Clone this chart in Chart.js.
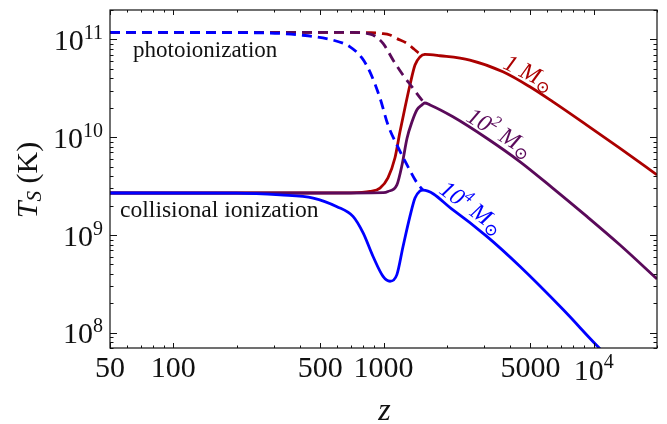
<!DOCTYPE html>
<html>
<head>
<meta charset="utf-8">
<script src="https://cdn.jsdelivr.net/npm/chart.js@4.4.0/dist/chart.umd.min.js"></script>
<style>
  html, body { margin: 0; padding: 0; background: #fff; }
  #wrap { width: 667px; height: 424px; }
</style>
</head>
<body>
<div id="wrap"><canvas id="tsChart" width="667" height="424"></canvas></div>
<script>
// Spin temperature T_S (K) vs redshift z
const zRange = [50, 20000];
const tRange = [7e7, 2e11];

// 1 Msun
const zRedColl = [50, 300, 700, 863, 962, 1050, 1134, 1197, 1265, 1336, 1412, 1490, 1574, 1855, 2575, 3700, 4970, 6380, 9270, 13300, 20000];
const tRedColl = [2.69e9, 2.69e9, 2.70e9, 2.79e9, 3.02e9, 3.85e9, 6.17e9, 1.13e10, 2.0e10, 3.42e10, 5.47e10, 6.61e10, 7.03e10, 6.81e10, 6.15e10, 4.67e10, 3.28e10, 2.31e10, 1.33e10, 7.73e9, 4.12e9];
const zRedPhot = [50, 600, 870, 980, 1074, 1158, 1294, 1400, 1490, 1574];
const tRedPhot = [1.18e11, 1.18e11, 1.17e11, 1.15e11, 1.11e11, 1.02e11, 9.12e10, 7.94e10, 7.16e10, 7.03e10];

// 10^2 Msun
const zPurColl = [50, 500, 1000, 1050, 1158, 1225, 1294, 1365, 1443, 1524, 1570, 1665, 2140, 3100, 4450, 6380, 9270, 13300, 20000];
const tPurColl = [2.69e9, 2.69e9, 2.72e9, 2.79e9, 3.26e9, 5.21e9, 9.77e9, 1.43e10, 1.91e10, 2.14e10, 2.24e10, 2.14e10, 1.62e10, 9.77e9, 5.64e9, 3.02e9, 1.55e9, 7.96e8, 3.56e8];
const zPurPhot = [50, 700, 820, 891, 995, 1110, 1238, 1365, 1524, 1570];
const tPurPhot = [1.18e11, 1.18e11, 1.16e11, 1.11e11, 9.12e10, 6.17e10, 4.33e10, 3.28e10, 2.40e10, 2.24e10];

// 10^4 Msun
const zBluColl = [50, 200, 322, 463, 601, 716, 800, 892, 995, 1074, 1158, 1238, 1336, 1412, 1490, 1541, 2140, 3100, 4450, 7130, 10570, 20000];
const tBluColl = [2.69e9, 2.68e9, 2.57e9, 2.39e9, 1.95e9, 1.55e9, 1.05e9, 6.03e8, 3.78e8, 3.37e8, 3.94e8, 7.59e8, 1.55e9, 2.39e9, 2.82e9, 2.88e9, 1.81e9, 9.68e8, 4.79e8, 1.74e8, 7.08e7, 1.86e7];
const zBluPhot = [50, 250, 401, 575, 693, 791, 863, 962, 1050, 1158, 1294, 1443, 1541];
const tBluPhot = [1.18e11, 1.17e11, 1.11e11, 9.84e10, 8.41e10, 6.44e10, 4.63e10, 2.52e10, 1.34e10, 8.34e9, 5.21e9, 3.42e9, 2.88e9];

// axis ticks
const xLabelTicks = [50, 100, 500, 1000, 5000, 10000];
const xLabelText = ['50', '100', '500', '1000', '5000', '10^4'];
const yLabelTicks = [1e8, 1e9, 1e10, 1e11];
const yLabelText = ['10^8', '10^9', '10^10', '10^11'];

const RED = '#ab0000';
const PURPLE = '#5a0a5a';
const BLUE = '#0000ff';
const SERIF = "'Liberation Serif', 'DejaVu Serif', serif";

function toPoints(zs, ts) {
  return zs.map((z, i) => ({ x: z, y: ts[i] }));
}

function line(label, zs, ts, color, dashed, order) {
  return {
    label: label,
    data: toPoints(zs, ts),
    borderColor: color,
    backgroundColor: 'transparent',
    borderWidth: 2.8,
    borderDash: dashed ? [10, 6] : [],
    pointRadius: 0,
    cubicInterpolationMode: 'monotone',
    fill: false,
    order: order
  };
}

function fontOf(p) {
  return (p.italic ? 'italic ' : '') + p.size + 'px ' + SERIF;
}

// draw a run of text pieces (superscripts/subscripts via dy)
function drawRich(ctx, parts, x, y, align) {
  let w = 0;
  parts.forEach(p => { ctx.font = fontOf(p); p.w = ctx.measureText(p.text).width; w += p.w; });
  let cx = align === 'right' ? x - w : align === 'center' ? x - w / 2 : x;
  ctx.textAlign = 'left';
  parts.forEach(p => {
    ctx.font = fontOf(p);
    ctx.fillText(p.text, cx, y + (p.dy || 0));
    cx += p.w;
  });
}

function powParts(str, size, supSize, dy) {
  const bits = str.split('^');
  const parts = [{ text: bits[0], size: size }];
  if (bits[1]) parts.push({ text: bits[1], size: supSize, dy: dy });
  return parts;
}

function minorValues(lo, hi) {
  const out = [];
  for (let d = Math.floor(Math.log10(lo)); d <= Math.ceil(Math.log10(hi)); d++) {
    for (let m = 1; m < 10; m++) {
      const v = m * Math.pow(10, d);
      if (v >= lo && v <= hi) out.push(v);
    }
  }
  return out;
}

const frameAxes = {
  id: 'frameAxes',
  afterDraw(chart) {
    const { ctx, chartArea: a, scales: { x, y } } = chart;
    ctx.save();
    ctx.strokeStyle = '#111';
    ctx.lineWidth = 1.2;
    ctx.strokeRect(a.left, a.top, a.right - a.left, a.bottom - a.top);

    // inward ticks on all four sides
    ctx.beginPath();
    minorValues(zRange[0], zRange[1]).forEach(v => {
      const px = Math.round(x.getPixelForValue(v)) + 0.5;
      const len = xLabelTicks.includes(v) ? 5 : 2.5;
      ctx.moveTo(px, a.bottom); ctx.lineTo(px, a.bottom - len);
      ctx.moveTo(px, a.top); ctx.lineTo(px, a.top + len);
    });
    minorValues(tRange[0], tRange[1]).forEach(v => {
      const py = Math.round(y.getPixelForValue(v)) + 0.5;
      const len = yLabelTicks.includes(v) ? 7 : 3.5;
      ctx.moveTo(a.left, py); ctx.lineTo(a.left + len, py);
      ctx.moveTo(a.right, py); ctx.lineTo(a.right - len, py);
    });
    ctx.lineWidth = 1;
    ctx.stroke();

    // tick labels
    ctx.fillStyle = '#111';
    ctx.textBaseline = 'alphabetic';
    xLabelTicks.forEach((v, i) => {
      const px = x.getPixelForValue(v);
      const pow = xLabelText[i].includes('^');
      drawRich(ctx, powParts(xLabelText[i], 30, 20, -12), px, a.bottom + (pow ? 32 : 29), 'center');
    });
    yLabelTicks.forEach((v, i) => {
      const py = y.getPixelForValue(v);
      drawRich(ctx, powParts(yLabelText[i], 30, 20, -11), a.left - 7, py + 10.5, 'right');
    });

    // axis titles
    drawRich(ctx, [{ text: 'z', size: 32, italic: true }], (a.left + a.right) / 2 + 1, 420, 'center');
    ctx.save();
    ctx.translate(37, 180);
    ctx.rotate(-Math.PI / 2);
    drawRich(ctx, [
      { text: 'T', size: 30, italic: true },
      { text: 'S', size: 21, italic: true, dy: 4 },
      { text: ' (K)', size: 30 }
    ], 0, 0, 'center');
    ctx.restore();

    // curve annotations
    drawRich(ctx, [{ text: 'photoionization', size: 23 }], 133, 57, 'left');
    drawRich(ctx, [{ text: 'collisional ionization', size: 23.6 }], 120, 217, 'left');

    const massLabels = [
      { pre: '1', exp: '', cx: 529, cy: 72, ang: 26, color: RED },
      { pre: '10', exp: '2', cx: 500, cy: 132, ang: 31, color: PURPLE },
      { pre: '10', exp: '4', cx: 472, cy: 207, ang: 36, color: BLUE }
    ];
    massLabels.forEach(m => {
      ctx.save();
      ctx.translate(m.cx, m.cy);
      ctx.rotate(m.ang * Math.PI / 180);
      ctx.fillStyle = m.color;
      const parts = [{ text: m.pre, size: 24, italic: true }];
      if (m.exp) parts.push({ text: m.exp, size: 16, italic: true, dy: -10 });
      parts.push({ text: ' M', size: 24, italic: true });
      parts.push({ text: '\u2299', size: 17, dy: 5 });
      drawRich(ctx, parts, 0, 8, 'center');
      ctx.restore();
    });

    ctx.restore();
  }
};

new Chart(document.getElementById('tsChart').getContext('2d'), {
  type: 'line',
  data: {
    datasets: [
      line('1 Msun collisional', zRedColl, tRedColl, RED, false, 3),
      line('1 Msun photo', zRedPhot, tRedPhot, RED, true, 3),
      line('100 Msun collisional', zPurColl, tPurColl, PURPLE, false, 2),
      line('100 Msun photo', zPurPhot, tPurPhot, PURPLE, true, 2),
      line('1e4 Msun collisional', zBluColl, tBluColl, BLUE, false, 1),
      line('1e4 Msun photo', zBluPhot, tBluPhot, BLUE, true, 1)
    ]
  },
  options: {
    responsive: false,
    animation: false,
    devicePixelRatio: 1,
    events: [],
    layout: { padding: { left: 110, right: 10, top: 10, bottom: 76 } },
    scales: {
      x: { type: 'logarithmic', min: zRange[0], max: zRange[1], display: false },
      y: { type: 'logarithmic', min: tRange[0], max: tRange[1], display: false }
    },
    plugins: {
      legend: { display: false },
      tooltip: { enabled: false }
    }
  },
  plugins: [frameAxes]
});
</script>
</body>
</html>
